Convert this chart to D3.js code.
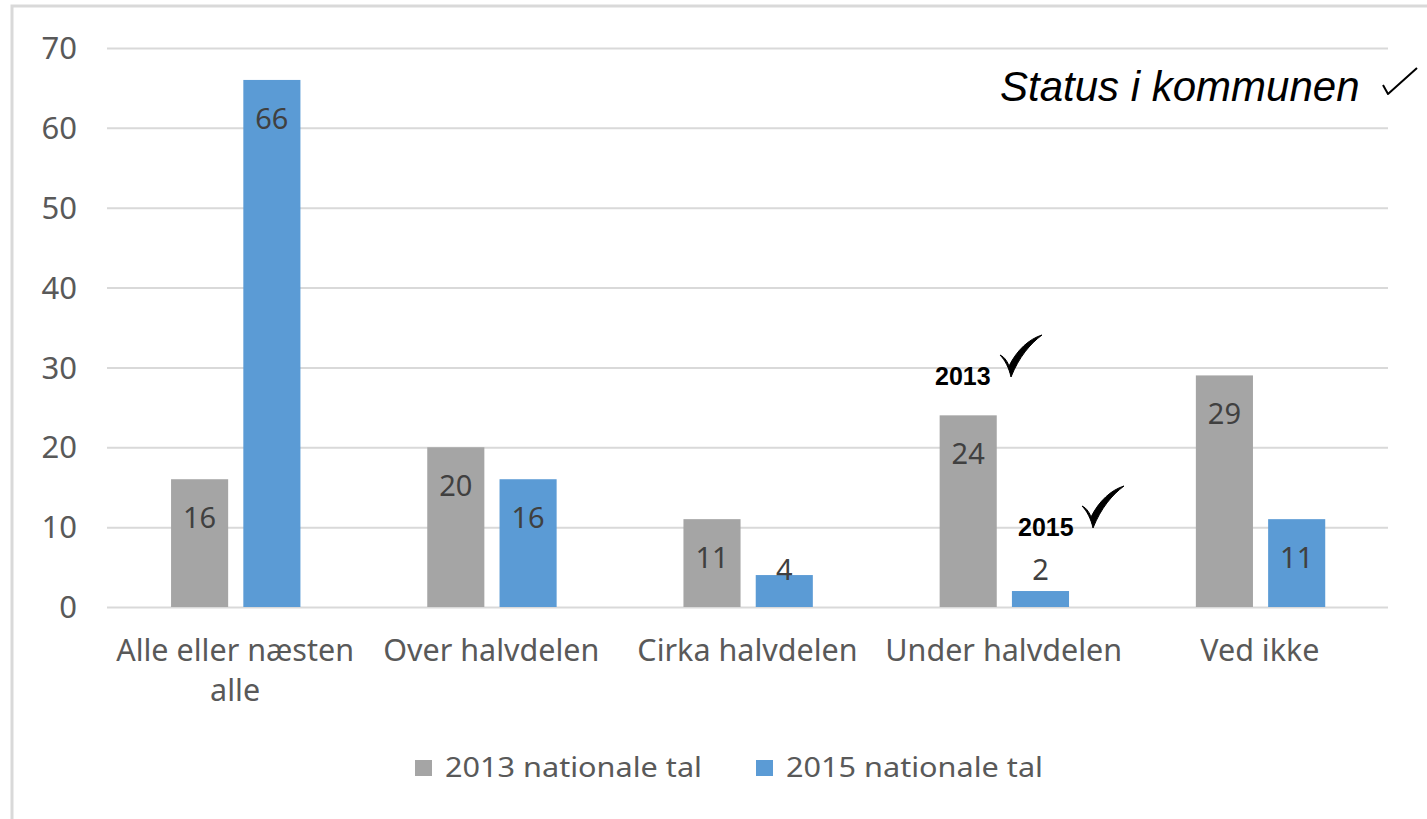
<!DOCTYPE html>
<html lang="da">
<head>
<meta charset="utf-8">
<script src="https://cdnjs.cloudflare.com/ajax/libs/d3/7.8.5/d3.min.js"></script>
<style>
  body { margin: 0; background: #fff; }
  .grid line { stroke: #d9d9d9; stroke-width: 2; }
  .grid path { display: none; }
</style>
</head>
<body>
<svg width="1427" height="819"></svg>
<script>
// chart values
var categories = ["Alle eller næsten alle", "Over halvdelen", "Cirka halvdelen", "Under halvdelen", "Ved ikke"];
var seriesNames = ["2013 nationale tal", "2015 nationale tal"];
var values2013 = [16, 20, 11, 24, 29];
var values2015 = [66, 16, 4, 2, 11];
var yTicks = [0, 10, 20, 30, 40, 50, 60, 70];
var colors = ["#a5a5a5", "#5b9bd5"];

var svg = d3.select("svg");
var sans = "'Noto Sans', 'Open Sans', sans-serif";
var arial = "'Liberation Sans', Arial, sans-serif";

// frame lines (left + top)
svg.append("path")
    .attr("d", "M12,819 L12,6 L1427,6")
    .attr("fill", "none")
    .attr("stroke", "#d9d9d9")
    .attr("stroke-width", 3);

var plotLeft = 107, plotRight = 1388, plotTop = 48, plotBottom = 607;

var y = d3.scaleLinear().domain([0, 70]).range([plotBottom, plotTop]);

var x0 = d3.scaleBand().domain(categories).range([plotLeft, plotRight]).padding(0);
var x1 = d3.scaleBand().domain([0, 1])
    .range([x0.bandwidth() * 0.25, x0.bandwidth() * 0.755])
    .paddingInner(0.21);

// gridlines
svg.append("g")
    .attr("class", "grid")
    .attr("transform", "translate(" + plotLeft + ",0)")
    .call(d3.axisRight(y).tickValues(yTicks).tickSize(plotRight - plotLeft).tickFormat(""));

// y labels
svg.append("g")
    .attr("class", "y-labels")
    .selectAll("text")
    .data(yTicks)
    .enter().append("text")
      .attr("x", 77)
      .attr("y", function(d) { return y(d); })
      .attr("dy", "0.36em")
      .attr("text-anchor", "end")
      .attr("fill", "#595959")
      .style("font-family", sans)
      .style("font-size", "31px")
      .text(function(d) { return d; });

// bars
var rows = categories.map(function(c, i) { return { cat: c, vals: [values2013[i], values2015[i]] }; });

var groups = svg.selectAll(".group")
    .data(rows)
    .enter().append("g")
      .attr("class", "group")
      .attr("transform", function(d) { return "translate(" + x0(d.cat) + ",0)"; });

groups.selectAll("rect")
    .data(function(d) { return d.vals.map(function(v, k) { return { k: k, v: v }; }); })
    .enter().append("rect")
      .attr("x", function(d) { return x1(d.k); })
      .attr("y", function(d) { return y(d.v); })
      .attr("width", x1.bandwidth())
      .attr("height", function(d) { return plotBottom - y(d.v); })
      .attr("fill", function(d) { return colors[d.k]; });

// data labels: inside the top of the bar, short bars keep the label off the axis
groups.selectAll(".val")
    .data(function(d) { return d.vals.map(function(v, k) { return { k: k, v: v }; }); })
    .enter().append("text")
      .attr("class", "val")
      .attr("x", function(d) { return x1(d.k) + x1.bandwidth() / 2; })
      .attr("y", function(d) { return Math.min(y(d.v) + 39, plotBottom - 37) + 10; })
      .attr("text-anchor", "middle")
      .attr("fill", "#404040")
      .style("font-family", sans)
      .style("font-size", "29px")
      .text(function(d) { return d.v; });

// category labels (wrap first one)
var catLabels = [["Alle eller næsten", "alle"], ["Over halvdelen"], ["Cirka halvdelen"], ["Under halvdelen"], ["Ved ikke"]];
svg.selectAll(".cat")
    .data(categories)
    .enter().append("text")
      .attr("class", "cat")
      .attr("text-anchor", "middle")
      .attr("fill", "#595959")
      .style("font-family", sans)
      .style("font-size", "30.5px")
      .each(function(d, i) {
        var t = d3.select(this);
        catLabels[i].forEach(function(line, j) {
          t.append("tspan")
            .attr("x", x0(d) + x0.bandwidth() / 2)
            .attr("y", 661 + j * 40)
            .text(line);
        });
      });

// legend
var legend = svg.append("g").attr("class", "legend");
var legendX = [415, 756];
seriesNames.forEach(function(name, i) {
  legend.append("rect")
      .attr("x", legendX[i])
      .attr("y", 760)
      .attr("width", 17)
      .attr("height", 16)
      .attr("fill", colors[i]);
  legend.append("text")
      .attr("x", legendX[i] + 30)
      .attr("y", 777)
      .attr("fill", "#595959")
      .style("font-family", sans)
      .style("font-size", "28px")
      .attr("textLength", 257)
      .attr("lengthAdjust", "spacingAndGlyphs")
      .text(name);
});

// annotations
svg.append("text")
    .attr("x", 1000)
    .attr("y", 101)
    .style("font-family", arial)
    .style("font-style", "italic")
    .style("font-size", "42px")
    .attr("fill", "#000")
    .text("Status i kommunen");
svg.append("path")
    .attr("d", "M1383,85 L1388,94 L1417,68")
    .attr("fill", "none")
    .attr("stroke", "#000")
    .attr("stroke-width", 2)
    .attr("stroke-linejoin", "round");

function check(x, yy, s) {
  svg.append("path")
      .attr("d", "M" + x + "," + (yy + 20 * s) +
        " C" + (x + 5 * s) + "," + (yy + 22 * s) + " " + (x + 8 * s) + "," + (yy + 28 * s) + " " + (x + 9 * s) + "," + (yy + 31 * s) +
        " C" + (x + 17 * s) + "," + (yy + 15 * s) + " " + (x + 29 * s) + "," + (yy + 4 * s) + " " + (x + 42 * s) + "," + yy +
        " C" + (x + 30 * s) + "," + (yy + 9 * s) + " " + (x + 19 * s) + "," + (yy + 22 * s) + " " + (x + 11 * s) + "," + (yy + 42 * s) +
        " C" + (x + 9 * s) + "," + (yy + 33 * s) + " " + (x + 5 * s) + "," + (yy + 25 * s) + " " + x + "," + (yy + 20 * s) + " Z")
      .attr("fill", "#000")
      .attr("stroke", "#000")
      .attr("stroke-width", 1);
}
var notes = [{ label: "2013", x: 935, y: 385, cx: 1000, cy: 335 }, { label: "2015", x: 1018, y: 536, cx: 1082, cy: 486 }];
notes.forEach(function(n) {
  svg.append("text")
      .attr("x", n.x)
      .attr("y", n.y)
      .style("font-family", arial)
      .style("font-weight", "bold")
      .style("font-size", "25px")
      .attr("fill", "#000")
      .text(n.label);
  check(n.cx, n.cy, 1.0);
});
</script>
</body>
</html>
